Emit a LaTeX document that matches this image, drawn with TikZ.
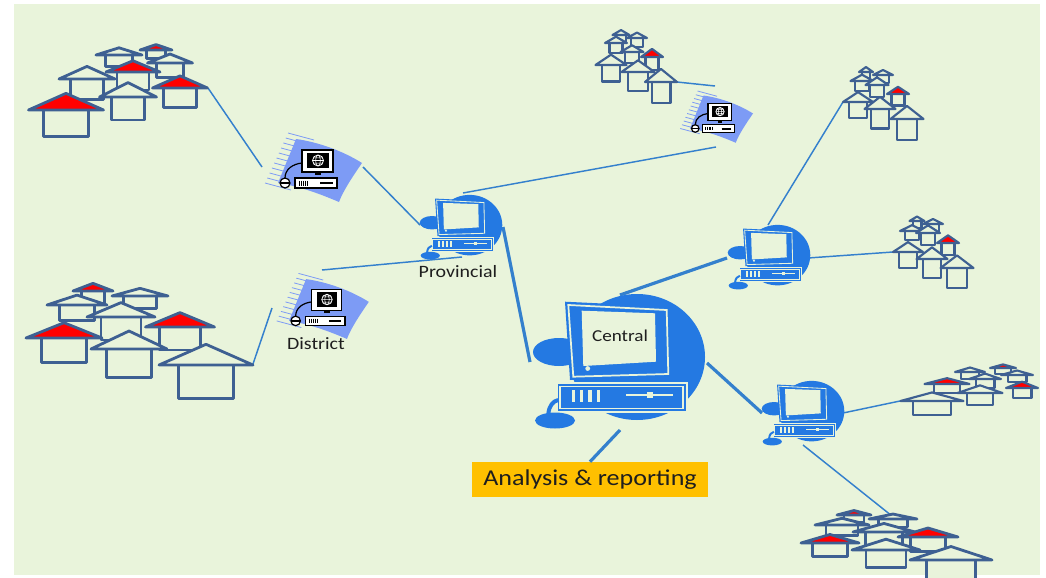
\documentclass[tikz,border=0pt]{standalone}
\usepackage{fontspec}
\newfontfamily\labelfont[FakeStretch=1.15]{Carlito}
\usepackage{tikz}
\usepackage{xcolor}
\definecolor{bg}{RGB}{233,244,219}
\definecolor{houseline}{RGB}{62,96,146}
\definecolor{roofred}{RGB}{255,0,0}
\definecolor{pcblue}{RGB}{36,121,226}
\definecolor{periwinkle}{RGB}{125,155,245}
\definecolor{linkblue}{RGB}{52,128,205}
\definecolor{gold}{RGB}{255,192,0}
\definecolor{ink}{RGB}{30,30,30}

% one house: eave centre x, y, half width, height scale, roof colour
\newcommand{\house}[5]{%
  \begin{scope}[shift={(#1,#2)}, xscale=#3, yscale=#4]
    \filldraw[housebody] (-0.59,0) rectangle (0.59,0.72);
    \filldraw[housebody, fill=#5] (-1,0) -- (0,-0.45) -- (1,0) -- cycle;
  \end{scope}}

% small terminal with swoosh: monitor centre x, y, scale
\newcommand{\district}[3]{%
  \begin{scope}[shift={(#1,#2)}, scale=#3]
    \fill[periwinkle] (-22,-22) .. controls (0,-19) and (25,-10) .. (44,2)
      .. controls (35,15) and (25,30) .. (21,41)
      .. controls (0,32) and (-20,25) .. (-40,22) -- cycle;
    \foreach \k in {0,...,10}
      \draw[periwinkle, line width=0.6pt] (-30-2.3*\k,-28+5*\k) -- ++(26,7);
    % monitor
    \filldraw[pcline, fill=white] (-16,-11) rectangle (15,11);
    \fill[black] (-11,-8) rectangle (11,7);
    \draw[white, line width=0.6pt] (0,-0.5) circle (5.5);
    \draw[white, line width=0.4pt] (0,-0.5) ellipse (2.4 and 5.5)
      (-5.5,-0.5) -- (5.5,-0.5) (-4.8,-3.2) -- (4.8,-3.2) (-4.8,2.2) -- (4.8,2.2);
    \fill[black] (-3,11) rectangle (3,14);
    % box
    \filldraw[pcline, fill=white] (-23,17) rectangle (19,27);
    \foreach \k in {0,...,4}
      \draw[black, line width=0.5pt] (-19+2.2*\k,19.5) -- ++(0,5);
    \draw[black, line width=1.5pt] (2,22) -- (15,22);
    % mouse
    \draw[pcline] (-33,17) .. controls (-33,8) and (-25,3) .. (-16,2);
    \filldraw[pcline, fill=white] (-33,22) circle (5);
    \draw[pcline] (-38,22) -- (-28,22);
  \end{scope}}

% blue desktop: screen centre x, y, scale
\newcommand{\workstation}[3]{%
  \begin{scope}[shift={(#1,#2)}, scale=#3]
    \fill[pcblue] (18,19) ellipse (68 and 63);
    \fill[pcblue] (-60,14) ellipse (26 and 14);
    % monitor
    \fill[pcblue] (-54,-36.3) -- (51,-31.3) -- (52.7,38.7) -- (-49,42) -- cycle;
    \draw[bg, line width=#3*1.3pt] (-50.7,-33) -- (47.7,-28) -- (49.3,36) -- (-45.7,38.7) -- cycle;
    \fill[bg] (-37.3,-27.3) -- (36,-24.7) -- (37,23.7) -- (-35.7,28) -- cycle;
    \fill[bg] (-31.3,30.5) circle (2.4);
    % box
    \filldraw[pcblue, draw=bg, line width=#3*1.3pt] (-62.3,45.3) rectangle (67.7,73.7);
    \draw[bg, line width=#3*1.3pt] (-59,48.5) rectangle (64.3,70.5);
    \foreach \dx in {-47.3,-39,-30.7,-22.3}
      \fill[bg] (\dx,52) rectangle ++(3.3,11.7);
    \draw[bg, line width=#3*2pt] (7,57) -- (54.3,57);
    \fill[bg] (27.7,53.7) rectangle (34.3,60.3);
    % mouse
    \draw[pcblue, line width=#3*3pt] (-70.7,76) .. controls (-70,68) and (-66,63) .. (-60.7,62);
    \fill[pcblue] (-64,82.5) ellipse (20 and 8);
  \end{scope}}

\begin{document}
\begin{tikzpicture}[x=0.75pt, y=-0.75pt,
  housebody/.style={draw=houseline, fill=bg, line width=2.1pt, line join=round},
  link/.style={draw=linkblue, line width=1.1pt},
  trunk/.style={draw=linkblue, line width=2.4pt},
  pcline/.style={draw=black, line width=0.9pt},
  tag/.style={text=ink, inner sep=1pt}]
  \useasboundingbox (0,0) rectangle (1046,578);
  \clip (0,0) rectangle (1046,578);
  \fill[bg] (14,4) rectangle (1040,575);

  % Link ends
  \coordinate (hamA) at (208,88);
  \coordinate (distAw) at (262,167);
  \coordinate (distAe) at (363,167);
  \coordinate (provW) at (420,225);
  \coordinate (hamB) at (253,364);
  \coordinate (distBs) at (272,308);
  \coordinate (distBn) at (322,270);
  \coordinate (provSW) at (462,257);
  \coordinate (provN) at (463,193);
  \coordinate (distCs) at (716,147);
  \coordinate (hamC) at (677,82);
  \coordinate (distCn) at (715,86);
  \coordinate (provSE) at (503,227);
  \coordinate (cenNW) at (530,362);
  \coordinate (cenNE) at (620,295);
  \coordinate (wsAw) at (727,258);
  \coordinate (cenE) at (707,363);
  \coordinate (wsBw) at (762,413);
  \coordinate (cenS) at (620,430);
  \coordinate (wsAn) at (768,225);
  \coordinate (hamD) at (843,102);
  \coordinate (wsAe) at (808,258);
  \coordinate (hamE) at (893,252);
  \coordinate (wsBe) at (843,413);
  \coordinate (hamF) at (900,401);
  \coordinate (wsBs) at (803,445);
  \coordinate (hamG) at (892,516);

  % Report box
  \node[fill=gold, minimum width=177pt, minimum height=26.25pt, tag,
    font=\labelfont\fontsize{17}{20}\selectfont] (report) at (590,479.5) {Analysis \& reporting};

  % Links
  \draw[link] (hamA) -- (distAw);
  \draw[link] (distAe) -- (provW);
  \draw[link] (hamB) -- (distBs);
  \draw[link] (distBn) -- (provSW);
  \draw[link] (provN) -- (distCs);
  \draw[link] (hamC) -- (distCn);
  \draw[trunk] (provSE) -- (cenNW);
  \draw[trunk] (cenNE) -- (wsAw);
  \draw[trunk] (cenE) -- (wsBw);
  \draw[trunk] (cenS) -- (report.north);
  \draw[link] (wsAn) -- (hamD);
  \draw[link] (wsAe) -- (hamE);
  \draw[link] (wsBe) -- (hamF);
  \draw[link] (wsBs) -- (hamG);

  % Villages, back to front
  \house{156}{50}{16}{12}{roofred}
  \house{119}{55}{23}{16}{bg}
  \house{170}{63}{22.5}{20}{bg}
  \house{133}{72}{27}{25}{roofred}
  \house{87}{79}{28}{28}{bg}
  \house{180}{88}{27.5}{27}{roofred}
  \house{128}{97}{28.5}{32}{bg}
  \house{66}{110}{37.5}{37}{roofred}

  \house{93}{291}{20}{17}{roofred}
  \house{140}{296}{28}{17}{bg}
  \house{77}{305}{30}{22}{bg}
  \house{121}{317}{34}{32}{bg}
  \house{180}{327}{34.5}{32}{roofred}
  \house{64}{338}{38}{34}{roofred}
  \house{129}{349}{38}{40}{bg}
  \house{206}{365}{47}{46}{bg}

  \begin{scope}[housebody/.append style={line width=1.6pt}]
    \house{621}{35}{8.5}{11}{bg}
    \house{637}{38}{10}{12}{bg}
    \house{616}{43}{11}{14}{bg}
    \house{632}{52}{11.5}{15}{bg}
    \house{652}{57}{11}{18}{roofred}
    \house{611}{65}{15.5}{23}{bg}
    \house{638}{72}{16.5}{26}{bg}
    \house{661}{82}{16}{29}{bg}

    \house{866}{72}{7}{11}{bg}
    \house{883}{75}{10}{11}{bg}
    \house{862}{81}{11.5}{14}{bg}
    \house{877}{85}{11.5}{17}{bg}
    \house{898}{94}{11}{16}{roofred}
    \house{858}{102}{15}{22}{bg}
    \house{880}{109}{15.5}{27}{bg}
    \house{907}{119}{16.5}{29}{bg}

    \house{917}{221}{7.5}{10}{bg}
    \house{933}{224}{10}{11}{bg}
    \house{912}{231}{12}{13}{bg}
    \house{928}{233}{12}{17}{bg}
    \house{948}{243}{11}{17}{roofred}
    \house{908}{252}{15}{22}{bg}
    \house{932}{259}{15.5}{26}{bg}
    \house{957}{268}{16.5}{28}{bg}

    \house{1003}{368}{13}{8}{roofred}
    \house{970}{372}{15}{10}{bg}
    \house{1017}{375}{16}{10}{bg}
    \house{985}{379}{16}{12}{bg}
    \house{947}{384}{22.5}{13}{roofred}
    \house{1022}{388}{16}{14}{roofred}
    \house{980}{393}{22.5}{17}{bg}
    \house{932}{401}{31.5}{19}{bg}
  \end{scope}

  \house{854}{515}{17}{10}{roofred}
  \house{893}{519}{24}{11}{bg}
  \house{842}{525}{27}{15}{bg}
  \house{884}{532}{31}{19}{bg}
  \house{928}{537}{30}{20}{roofred}
  \house{830}{543}{29}{19}{roofred}
  \house{886}{550}{34}{24}{bg}
  \house{951}{560}{41}{30}{bg}

  % District terminals
  \district{318}{161}{1}
  \district{327}{300}{0.95}
  \district{720}{112}{0.75}

  % Provincial, central and regional desktops
  \workstation{461}{216}{0.48}
  \workstation{619}{338}{1}
  \workstation{769}{246}{0.48}
  \workstation{803}{402}{0.48}

  % Labels
  \node[tag, font=\labelfont\fontsize{13}{15}\selectfont] (provlabel) at (458,272) {Provincial};
  \node[tag, font=\labelfont\fontsize{13}{15}\selectfont] (distlabel) at (316,344) {District};
  \node[tag, font=\labelfont\fontsize{12.5}{15}\selectfont] (centlabel) at (620,336) {Central};
\end{tikzpicture}
\end{document}
